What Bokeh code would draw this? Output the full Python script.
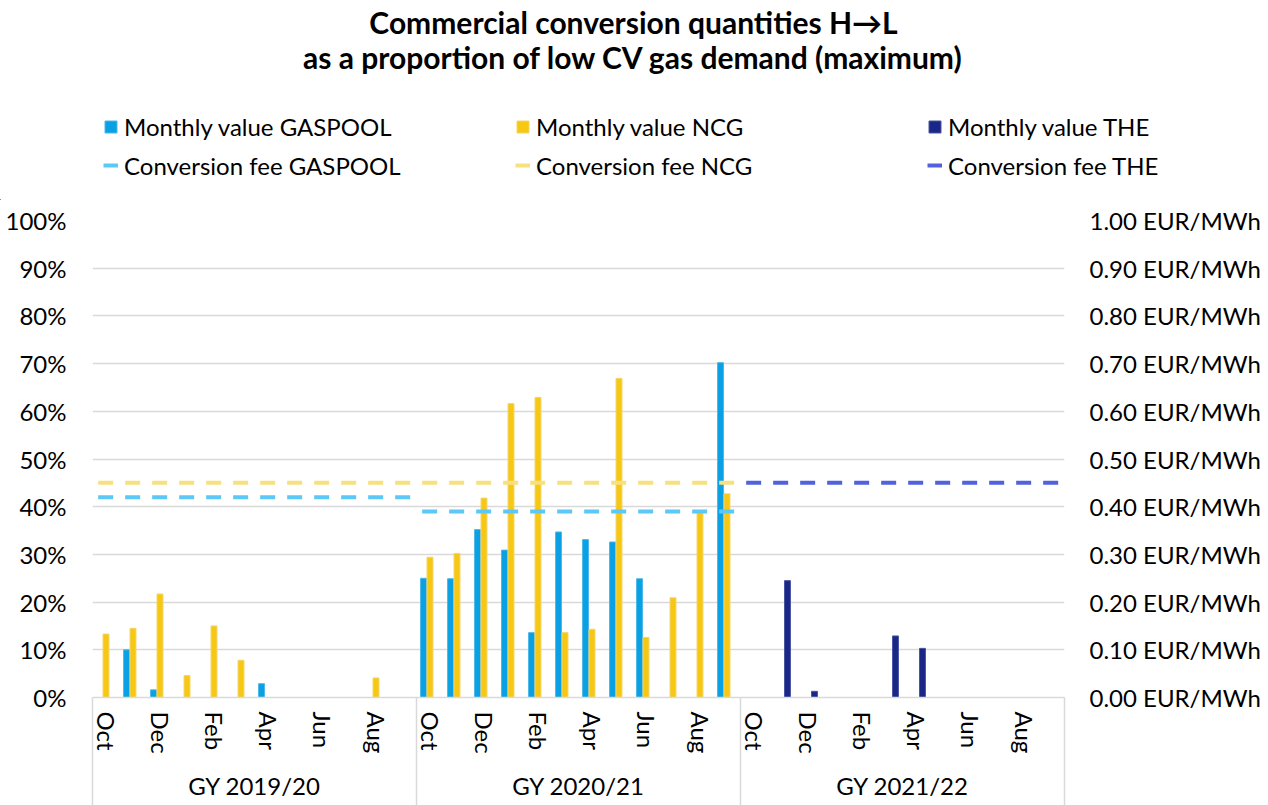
import numpy as np
from bokeh.plotting import figure
from bokeh.models import (Range1d, LinearAxis, FixedTicker, PrintfTickFormatter,
                          Legend, LegendItem, Label, ColumnDataSource)
from bokeh.embed import file_html
from bokeh.resources import INLINE

# ---------------- data ----------------
title_lines = ["Commercial conversion quantities H\u2192L",
               "as a proportion of low CV gas demand (maximum)"]
gas_years = ["GY 2019/20", "GY 2020/21", "GY 2021/22"]
months = ["Oct", "Nov", "Dec", "Jan", "Feb", "Mar", "Apr", "May", "Jun", "Jul", "Aug", "Sep"]

# monthly values in % of low CV gas demand (36 months, Oct 2019 .. Sep 2022)
gaspool = [0, 10.0, 1.6, 0, 0, 0, 2.9, 0, 0, 0, 0, 0,
           25.0, 24.9, 35.2, 30.9, 13.6, 34.7, 33.1, 32.6, 24.9, 0, 0, 70.2,
           0, 0, 0, 0, 0, 0, 0, 0, 0, 0, 0, 0]
ncg = [13.3, 14.5, 21.7, 4.6, 15.0, 7.8, 0, 0, 0, 0, 4.1, 0,
       29.4, 30.2, 41.8, 61.6, 62.9, 13.6, 14.3, 66.9, 12.6, 20.9, 38.7, 42.7,
       0, 0, 0, 0, 0, 0, 0, 0, 0, 0, 0, 0]
the = [0, 0, 0, 0, 0, 0, 0, 0, 0, 0, 0, 0,
       0, 0, 0, 0, 0, 0, 0, 0, 0, 0, 0, 0,
       0, 24.5, 1.3, 0, 0, 12.9, 10.3, 0, 0, 0, 0, 0]

# conversion fees in EUR/MWh per gas year
fee_gaspool = [0.42, 0.39, None]
fee_ncg = [0.45, 0.45, None]
fee_the = [None, None, 0.45]

series_bar = ["Monthly value GASPOOL", "Monthly value NCG", "Monthly value THE"]
series_fee = ["Conversion fee GASPOOL", "Conversion fee NCG", "Conversion fee THE"]

# ---------------- style ----------------
FONT = "Lato"
FS = "24px"
GRID = "#D9D9D9"
C_GP, C_GP_L = "#0AA0E4", "#4DB8EC"
C_NCG, C_NCG_L = "#F6C814", "#F4D468"
C_THE, C_THE_L = "#1B2787", "#4A55A3"
C_FEE_GP, C_FEE_NCG, C_FEE_THE = "#5BC8F8", "#F7E07E", "#5261DE"
DASH = "15 12"

W = 1268
TOP_H = 200            # header: y 0..200
MAIN_H = 805 - TOP_H   # main chart: y 200..805

# ================= header: titles + legend =================
hdr = figure(width=W, height=TOP_H, x_range=Range1d(0, W), y_range=Range1d(0, TOP_H),
             x_axis_type=None, y_axis_type=None, output_backend="svg",
             toolbar_location=None, min_border=0)
hdr.outline_line_color = None
hdr.background_fill_color = "white"
hdr.border_fill_color = "white"

for txt, yc in zip(title_lines, [21, 56]):
    hdr.add_layout(Label(x=633, y=TOP_H - yc, text=txt, text_align="center",
                         text_baseline="middle", text_font=FONT, text_font_size="30px",
                         text_font_style="bold", text_color="black"))

# legend glyph proxies (kept outside the visible range; same styling as the chart)
h_gp = hdr.vbar(x=[-100], top=[1], width=1, fill_color=C_GP, line_color=C_GP_L)
h_ncg = hdr.vbar(x=[-100], top=[1], width=1, fill_color=C_NCG, line_color=C_NCG_L)
h_the = hdr.vbar(x=[-100], top=[1], width=1, fill_color=C_THE, line_color=C_THE_L)
h_fgp = hdr.segment(x0=[-100], y0=[0], x1=[-99], y1=[0], line_color=C_FEE_GP,
                    line_width=4, line_dash=DASH)
h_fncg = hdr.segment(x0=[-100], y0=[0], x1=[-99], y1=[0], line_color=C_FEE_NCG,
                     line_width=4, line_dash=DASH)
h_fthe = hdr.segment(x0=[-100], y0=[0], x1=[-99], y1=[0], line_color=C_FEE_THE,
                     line_width=4, line_dash=DASH)

def make_legend(labels, rends, y_center, gh):
    lg = Legend(items=[LegendItem(label=l, renderers=[r]) for l, r in zip(labels, rends)],
                orientation="horizontal", location=(103, TOP_H - y_center - 15))
    lg.padding = 0
    lg.margin = 0
    lg.spacing = 0
    lg.border_line_color = None
    lg.background_fill_alpha = 0
    lg.glyph_width = 15
    lg.glyph_height = gh
    lg.label_standoff = 6
    lg.label_width = 391
    lg.label_height = 30
    lg.label_text_font = FONT
    lg.label_text_font_size = FS
    lg.label_text_color = "black"
    return lg

hdr.add_layout(make_legend(series_bar, [h_gp, h_ncg, h_the], 126, 15))
hdr.add_layout(make_legend(series_fee, [h_fgp, h_fncg, h_fthe], 165, 12))

# ================= main chart =================
# frame: x 92..1064, y 220..697 (page pixels)
p = figure(width=W, height=MAIN_H, x_range=Range1d(0, 36), y_range=Range1d(0, 100),
           x_axis_type=None, output_backend="svg", toolbar_location=None,
           min_border_left=92, min_border_right=204, min_border_top=20,
           min_border_bottom=108)
p.outline_line_color = None
p.background_fill_color = "white"
p.border_fill_color = "white"

# left axis
yticks = FixedTicker(ticks=list(range(0, 101, 10)))
ya = p.yaxis[0]
ya.ticker = yticks
ya.formatter = PrintfTickFormatter(format="%d%%")
ya.axis_line_color = None
ya.major_tick_line_color = None
ya.minor_tick_line_color = None
ya.major_tick_out = 0
ya.major_tick_in = 0
ya.major_label_standoff = 26
ya.major_label_text_font = FONT
ya.major_label_text_font_size = FS
ya.major_label_text_color = "black"

p.ygrid.ticker = yticks
p.ygrid.grid_line_color = GRID
p.ygrid.grid_line_width = 1.5
for g in p.xgrid:
    g.visible = False

# right axis (fees)
p.extra_y_ranges = {"fee": Range1d(0, 1.0)}
ra = LinearAxis(y_range_name="fee",
                ticker=FixedTicker(ticks=[i / 10 for i in range(11)]),
                formatter=PrintfTickFormatter(format="%.2f EUR/MWh"))
ra.axis_line_color = None
ra.major_tick_line_color = None
ra.minor_tick_line_color = None
ra.major_tick_out = 0
ra.major_tick_in = 0
ra.major_label_standoff = 25
ra.major_label_text_font = FONT
ra.major_label_text_font_size = FS
ra.major_label_text_color = "black"
p.add_layout(ra, "right")

# bottom axis: months (every second one labelled), gas-year separators as minor ticks
mticks = [i + 0.5 for i in range(0, 36, 2)]
xa = LinearAxis(ticker=FixedTicker(ticks=mticks, minor_ticks=[0, 12, 24, 36]),
                major_label_overrides={i + 0.5: months[i % 12] for i in range(0, 36, 2)})
xa.major_label_orientation = "vertical"
xa.axis_line_color = GRID
xa.axis_line_width = 1.5
xa.major_tick_line_color = None
xa.major_tick_out = 0
xa.major_tick_in = 0
xa.minor_tick_line_color = GRID
xa.minor_tick_line_width = 1.5
xa.minor_tick_in = 0
xa.minor_tick_out = 110
xa.major_label_standoff = -96
xa.major_label_text_font = FONT
xa.major_label_text_font_size = FS
xa.major_label_text_color = "black"
p.add_layout(xa, "below")

# bottom axis: gas years
ga = LinearAxis(ticker=FixedTicker(ticks=[6, 18, 30], minor_ticks=[]),
                major_label_overrides={6 + 12 * i: gy for i, gy in enumerate(gas_years)})
ga.axis_line_color = None
ga.major_tick_line_color = None
ga.minor_tick_line_color = None
ga.major_tick_out = 0
ga.major_tick_in = 0
ga.major_label_standoff = 14
ga.major_label_text_font = FONT
ga.major_label_text_font_size = FS
ga.major_label_text_color = "black"
p.add_layout(ga, "below")

# ---------------- bars ----------------
BW = 0.22
def bar_source(vals, offset):
    idx = [i for i, v in enumerate(vals) if v and v > 0]
    return ColumnDataSource(dict(x=[i + 0.5 + offset for i in idx], top=[vals[i] for i in idx]))

p.vbar(x="x", top="top", width=BW, bottom=0, source=bar_source(gaspool, -0.24),
       fill_color=C_GP, line_color=C_GP_L, line_width=1)
p.vbar(x="x", top="top", width=BW, bottom=0, source=bar_source(ncg, 0.0),
       fill_color=C_NCG, line_color=C_NCG_L, line_width=1)
p.vbar(x="x", top="top", width=BW, bottom=0, source=bar_source(the, 0.24),
       fill_color=C_THE, line_color=C_THE_L, line_width=1)

# ---------------- fee lines ----------------
def fee_source(fees):
    x0, x1, y = [], [], []
    for g, f in enumerate(fees):
        if f is not None:
            x0.append(12 * g + 0.21)
            x1.append(12 * (g + 1) - 0.22)
            y.append(f)
    return ColumnDataSource(dict(x0=x0, x1=x1, y=y))

for fees, col in [(fee_gaspool, C_FEE_GP), (fee_ncg, C_FEE_NCG), (fee_the, C_FEE_THE)]:
    p.segment(x0="x0", y0="y", x1="x1", y1="y", source=fee_source(fees),
              y_range_name="fee", line_color=col, line_width=4, line_dash=DASH)

open("out.html", "w").write(file_html([hdr, p], INLINE))
